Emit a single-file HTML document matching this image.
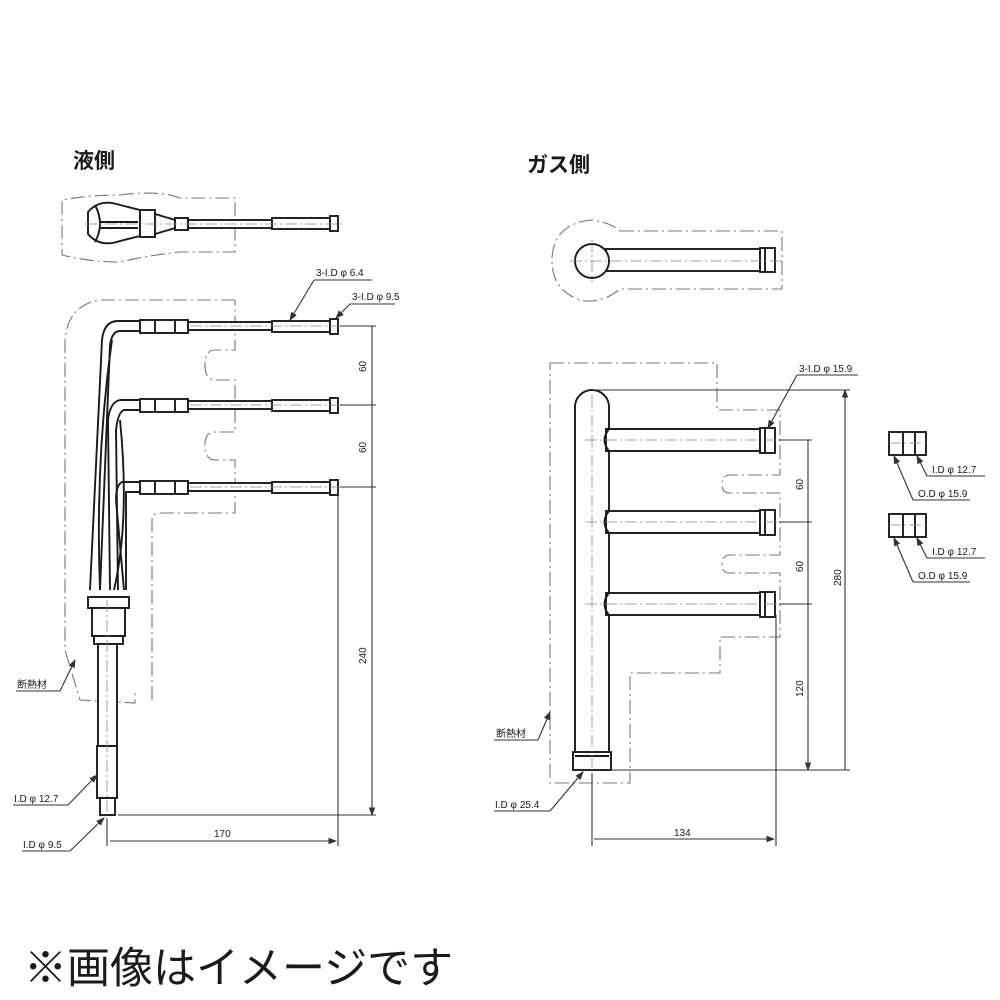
<!DOCTYPE html>
<html><head><meta charset="utf-8"><style>
html,body{margin:0;padding:0;background:#fff;}
svg{display:block;}
text{font-family:"Liberation Sans","Noto Sans CJK JP",sans-serif;fill:#1a1a1a;}
.t{fill:none;stroke:#1a1a1a;stroke-width:1.9;}
.tw{fill:#fff;stroke:#1a1a1a;stroke-width:1.9;}
.d{fill:none;stroke:#777;stroke-width:1.1;stroke-dasharray:14 4 2 4;}
.c{fill:none;stroke:#888;stroke-width:0.8;stroke-dasharray:12 3 2 3;}
.l{fill:none;stroke:#333;stroke-width:1.1;}
.s{font-size:10px;}
</style></head><body>
<svg width="1000" height="1000" viewBox="0 0 1000 1000" xmlns="http://www.w3.org/2000/svg">
<defs><marker id="a" markerWidth="8" markerHeight="6" refX="7" refY="3" orient="auto"><path d="M0,0 L8,3 L0,6 z" fill="#333"/></marker></defs>

<text x="73" y="168" font-size="21" font-weight="bold">液側</text>
<text x="527" y="172" font-size="21" font-weight="bold">ガス側</text>

<!-- LEFT top view -->
<path class="d" d="M120,195 Q160,190 180,198 L235,198 L235,252 L180,252 Q150,255 120,262 Q90,262 62,255 L62,200 Q90,195 120,195"/>
<path class="tw" d="M88,212 Q100,198 120,205 L140,210 L140,236 L120,241 Q100,248 88,234 z"/>
<path class="t" d="M95,205 Q105,224 95,242 M100,222 L138,222 M100,228 L138,228"/>
<rect class="tw" x="140" y="210" width="15" height="27"/>
<path class="tw" d="M155,214 L175,220 L175,228 L155,234 z"/>
<rect class="tw" x="175" y="218" width="13" height="12"/>
<rect class="tw" x="188" y="220" width="84" height="8"/>
<rect class="tw" x="272" y="218" width="58" height="11"/>
<rect class="tw" x="330" y="216" width="8" height="15"/>
<line class="c" x1="85" y1="224" x2="345" y2="224"/>

<path class="d" d="M235,300 L100,300 Q68,305 65,340 L65,650 L80,700 L135,703 L135,690 M152,700 L152,520 Q152,513 160,513 L235,513 L235,460 L215,460 Q205,460 205,445 Q205,432 215,432 L235,432 L235,380 L215,380 Q205,380 205,365 Q205,350 215,350 L235,350 L235,300"/>

<g>
<path class="t" d="M140,321 L118,321 Q104,321 102,340 L90,590"/>
<path class="t" d="M140,331 L120,331 Q112,331 110,345 L100,590"/>
<path class="t" d="M140,400 L120,400 Q110,402 108,420 L110,590"/>
<path class="t" d="M140,410 L124,410 Q118,412 116,430 L118,590"/>
<path class="t" d="M140,482 L122,482 Q116,485 116,500 L124,590"/>
<path class="t" d="M140,492 L126,492 L126,590"/>
<path class="t" d="M112,340 Q95,460 100,590 M120,420 Q130,520 114,590"/>
</g>
<g id="br">
<rect class="tw" x="140" y="320" width="48" height="13"/>
<line class="t" x1="155" y1="320" x2="155" y2="333"/><line class="t" x1="175" y1="320" x2="175" y2="333"/>
<rect class="tw" x="188" y="322" width="84" height="8"/>
<rect class="tw" x="272" y="321" width="58" height="11"/>
<rect class="tw" x="330" y="319" width="8" height="15"/>
<line class="c" x1="190" y1="326" x2="345" y2="326"/>
</g>
<use href="#br" y="79"/>
<use href="#br" y="161"/>

<rect class="tw" x="88" y="597" width="41" height="11"/>
<rect class="tw" x="92" y="608" width="33" height="28"/>
<rect class="tw" x="94" y="636" width="29" height="8"/>
<rect class="tw" x="98" y="644" width="19" height="102"/>
<rect class="tw" x="97" y="746" width="20" height="52"/>
<rect class="tw" x="100" y="798" width="15" height="17"/>
<line class="c" x1="107" y1="600" x2="107" y2="815"/>

<line class="l" x1="340" y1="326" x2="376" y2="326"/>
<line class="l" x1="340" y1="405" x2="376" y2="405"/>
<line class="l" x1="340" y1="487" x2="376" y2="487"/>
<line class="l" x1="118" y1="815" x2="376" y2="815"/>
<line class="l" x1="372" y1="326" x2="372" y2="815" marker-end="url(#a)"/>
<line class="l" x1="338" y1="487" x2="338" y2="846"/>
<line class="l" x1="107" y1="818" x2="107" y2="846"/>
<line class="l" x1="110" y1="841" x2="336" y2="841" marker-end="url(#a)"/>
<text class="s" transform="translate(366,372) rotate(-90)">60</text>
<text class="s" transform="translate(366,453) rotate(-90)">60</text>
<text class="s" transform="translate(366,664) rotate(-90)">240</text>
<text class="s" x="214" y="837">170</text>
<text class="s" x="316" y="276">3-I.D φ 6.4</text>
<line class="l" x1="314" y1="280" x2="372" y2="280"/>
<line class="l" x1="314" y1="280" x2="290" y2="320" marker-end="url(#a)"/>
<text class="s" x="352" y="300">3-I.D φ 9.5</text>
<line class="l" x1="350" y1="304" x2="395" y2="304"/>
<line class="l" x1="350" y1="304" x2="336" y2="318" marker-end="url(#a)"/>
<text class="s" x="17" y="688">断熱材</text>
<line class="l" x1="16" y1="691" x2="60" y2="691"/>
<line class="l" x1="60" y1="691" x2="75" y2="660" marker-end="url(#a)"/>
<text class="s" x="14" y="802">I.D φ 12.7</text>
<line class="l" x1="13" y1="805" x2="68" y2="805"/>
<line class="l" x1="68" y1="805" x2="97" y2="775" marker-end="url(#a)"/>
<text class="s" x="23" y="848">I.D φ 9.5</text>
<line class="l" x1="22" y1="851" x2="70" y2="851"/>
<line class="l" x1="70" y1="851" x2="104" y2="818" marker-end="url(#a)"/>

<!-- RIGHT top view -->
<path class="d" d="M620,231 L782,231 L782,289 L620,289 Q600,305 580,300 Q552,290 552,261 Q552,225 590,220 Q610,222 620,231"/>
<rect class="tw" x="606" y="249" width="154" height="22"/>
<rect class="tw" x="760" y="248" width="15" height="24"/>
<line class="t" x1="765" y1="248" x2="765" y2="272"/>
<circle class="tw" cx="592" cy="261" r="17"/>
<line class="c" x1="570" y1="261" x2="785" y2="261"/>
<line class="c" x1="592" y1="240" x2="592" y2="282"/>

<path class="d" d="M550,363 L717,363 L717,410 L780,410 L780,475 L730,475 Q722,475 722,485 Q722,493 730,493 L780,493 L780,555 L730,555 Q722,555 722,565 Q722,573 730,573 L780,573 L780,637 L720,637 L720,673 L630,673 L630,783 L550,783 Z"/>

<path class="tw" d="M575,752 L575,407 A17,17 0 0 1 609,407 L609,752"/>
<rect class="tw" x="573" y="752" width="38" height="18"/>
<line class="t" x1="575" y1="756" x2="609" y2="756"/>
<line class="c" x1="592" y1="395" x2="592" y2="775"/>
<g id="gb">
<rect class="tw" x="606" y="429" width="154" height="22"/>
<path class="t" d="M609,429 Q600,440 609,451"/>
<rect class="tw" x="760" y="428" width="15" height="25"/>
<line class="t" x1="765" y1="428" x2="765" y2="453"/>
<line class="c" x1="585" y1="440" x2="780" y2="440"/>
</g>
<use href="#gb" y="82"/>
<use href="#gb" y="164"/>

<line class="l" x1="592" y1="390" x2="850" y2="390"/>
<line class="l" x1="611" y1="770" x2="850" y2="770"/>
<line class="l" x1="779" y1="440" x2="812" y2="440"/>
<line class="l" x1="779" y1="522" x2="812" y2="522"/>
<line class="l" x1="779" y1="604" x2="812" y2="604"/>
<line class="l" x1="808" y1="440" x2="808" y2="770" marker-end="url(#a)"/>
<line class="l" x1="845" y1="770" x2="845" y2="390" marker-end="url(#a)"/>
<line class="l" x1="592" y1="773" x2="592" y2="846"/>
<line class="l" x1="776" y1="615" x2="776" y2="846"/>
<line class="l" x1="594" y1="839" x2="774" y2="839" marker-end="url(#a)"/>
<text class="s" transform="translate(803,490) rotate(-90)">60</text>
<text class="s" transform="translate(803,572) rotate(-90)">60</text>
<text class="s" transform="translate(803,697) rotate(-90)">120</text>
<text class="s" transform="translate(841,586) rotate(-90)">280</text>
<text class="s" x="674" y="836">134</text>
<text class="s" x="799" y="372">3-I.D φ 15.9</text>
<line class="l" x1="797" y1="375" x2="858" y2="375"/>
<line class="l" x1="797" y1="375" x2="768" y2="428" marker-end="url(#a)"/>
<text class="s" x="496" y="737">断熱材</text>
<line class="l" x1="494" y1="740" x2="538" y2="740"/>
<line class="l" x1="538" y1="740" x2="550" y2="712" marker-end="url(#a)"/>
<text class="s" x="495" y="808">I.D φ 25.4</text>
<line class="l" x1="494" y1="811" x2="550" y2="811"/>
<line class="l" x1="550" y1="811" x2="583" y2="772" marker-end="url(#a)"/>

<g id="ft">
<rect class="tw" x="889" y="432" width="37" height="23"/>
<line class="t" x1="903" y1="432" x2="903" y2="455"/>
<line class="t" x1="915" y1="432" x2="915" y2="455"/>
<line class="c" x1="889" y1="443" x2="926" y2="443"/>
<text class="s" x="932" y="473">I.D φ 12.7</text>
<line class="l" x1="927" y1="476" x2="985" y2="476"/>
<line class="l" x1="927" y1="476" x2="917" y2="456" marker-end="url(#a)"/>
<text class="s" x="918" y="497">O.D φ 15.9</text>
<line class="l" x1="913" y1="500" x2="970" y2="500"/>
<line class="l" x1="913" y1="500" x2="894" y2="456" marker-end="url(#a)"/>
</g>
<use href="#ft" y="82"/>

<text x="24" y="983" font-size="43">※画像はイメージです</text>
</svg>
</body></html>
